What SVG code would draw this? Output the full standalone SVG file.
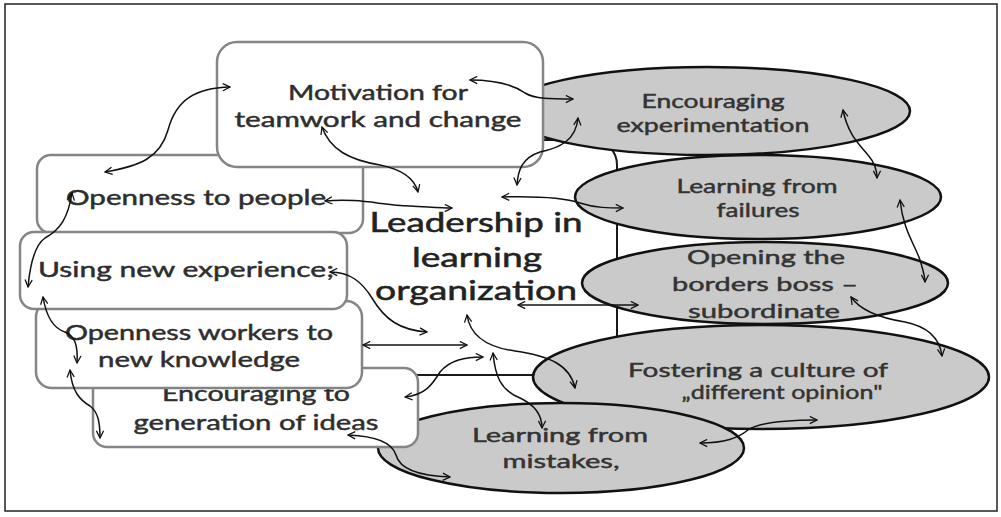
<svg xmlns="http://www.w3.org/2000/svg" width="1001" height="517" viewBox="0 0 1001 517">
<defs>
<marker id="ah" viewBox="0 0 10 10" refX="9" refY="5" markerWidth="9" markerHeight="9" markerUnits="userSpaceOnUse" orient="auto-start-reverse">
<path d="M1,1 L9,5 L1,9" fill="none" stroke="#111" stroke-width="1.4"/>
</marker>
</defs>
<style>
.frame{fill:#ffffff;stroke:#222;stroke-width:1.5}
.box{fill:#ffffff;stroke:#858585;stroke-width:2.5}
.center{fill:#ffffff;stroke:#1a1a1a;stroke-width:2}
.ell{fill:#cacaca;stroke:#111;stroke-width:2.5}
.t{font-family:Lato,"Open Sans","Liberation Sans",sans-serif;font-size:21px;fill:#2e2e2e;stroke:#2e2e2e;stroke-width:0.45;text-anchor:middle}
.te{font-family:Lato,"Open Sans","Liberation Sans",sans-serif;font-size:20px;fill:#333;stroke:#333;stroke-width:0.45;text-anchor:middle}
.tc{font-family:Lato,"Open Sans","Liberation Sans",sans-serif;font-size:26px;fill:#222;stroke:#222;stroke-width:0.5;text-anchor:middle}
.c{fill:none;stroke:#111;stroke-width:1.5;marker-start:url(#ah);marker-end:url(#ah)}
</style>
<rect class="frame" x="5" y="4" width="992" height="507"/>

<g id="leadership">
<rect class="center" x="240" y="140" width="377" height="235" rx="25"/>
<text class="tc" x="476" y="232" textLength="213" lengthAdjust="spacingAndGlyphs">Leadership in</text>
<text class="tc" x="477" y="267" textLength="130" lengthAdjust="spacingAndGlyphs">learning</text>
<text class="tc" x="476" y="300" textLength="202" lengthAdjust="spacingAndGlyphs">organization</text>
</g>

<g id="encouraging-experimentation">
<ellipse class="ell" cx="707" cy="111" rx="203" ry="44"/>
<text class="te" x="713" y="108" textLength="143" lengthAdjust="spacingAndGlyphs">Encouraging</text>
<text class="te" x="713" y="132" textLength="193" lengthAdjust="spacingAndGlyphs">experimentation</text>
</g>
<g id="learning-from-failures">
<ellipse class="ell" cx="758" cy="197" rx="183" ry="42"/>
<text class="te" x="757" y="193" textLength="161" lengthAdjust="spacingAndGlyphs">Learning from</text>
<text class="te" x="758" y="217" textLength="83" lengthAdjust="spacingAndGlyphs">failures</text>
</g>
<g id="opening-borders">
<ellipse class="ell" cx="765" cy="283" rx="183" ry="41"/>
<text class="te" x="766" y="264" textLength="158" lengthAdjust="spacingAndGlyphs">Opening the</text>
<text class="te" x="765" y="291" textLength="186" lengthAdjust="spacingAndGlyphs">borders boss –</text>
<text class="te" x="764" y="318" textLength="152" lengthAdjust="spacingAndGlyphs">subordinate</text>
</g>
<g id="fostering-culture">
<ellipse class="ell" cx="761" cy="377" rx="228" ry="52"/>
<text class="te" x="758" y="377" textLength="260" lengthAdjust="spacingAndGlyphs">Fostering a culture of</text>
<text class="te" x="782" y="399" textLength="201" lengthAdjust="spacingAndGlyphs">„different opinion"</text>
</g>
<g id="learning-from-mistakes">
<ellipse class="ell" cx="561" cy="448" rx="183" ry="45"/>
<text class="te" x="560" y="442" textLength="176" lengthAdjust="spacingAndGlyphs">Learning from</text>
<text class="te" x="561" y="468" textLength="117" lengthAdjust="spacingAndGlyphs">mistakes,</text>
</g>

<g id="generation-of-ideas">
<rect class="box" x="93" y="368" width="325" height="79" rx="14"/>
<text class="t" x="256" y="401" textLength="188" lengthAdjust="spacingAndGlyphs">Encouraging to</text>
<text class="t" x="256" y="430" textLength="245" lengthAdjust="spacingAndGlyphs">generation of ideas</text>
</g>
<g id="openness-workers">
<rect class="box" x="36" y="301" width="326" height="87" rx="16"/>
<text class="t" x="199" y="340" textLength="268" lengthAdjust="spacingAndGlyphs">Openness workers to</text>
<text class="t" x="199" y="367" textLength="202" lengthAdjust="spacingAndGlyphs">new knowledge</text>
</g>
<g id="openness-people">
<rect class="box" x="37" y="155" width="326" height="78" rx="14"/>
<text class="t" x="196" y="205" textLength="260" lengthAdjust="spacingAndGlyphs">Openness to people</text>
</g>
<g id="using-new-experience">
<rect class="box" x="20" y="232" width="327" height="77" rx="14"/>
<text class="t" x="186" y="277" textLength="296" lengthAdjust="spacingAndGlyphs">Using new experience;</text>
</g>
<g id="motivation">
<rect class="box" x="217" y="42" width="326" height="125" rx="20"/>
<text class="t" x="378" y="100" textLength="180" lengthAdjust="spacingAndGlyphs">Motivation for</text>
<text class="t" x="378" y="127" textLength="287" lengthAdjust="spacingAndGlyphs">teamwork and change</text>
</g>

<g id="connectors">
<path class="c" d="M105,172 C140,166 160,158 168,130 C176,100 195,88 230,87"/>
<path class="c" d="M322,127 C330,150 350,160 380,165 C405,170 415,180 418,192"/>
<path class="c" d="M325,201 C360,198 380,205 410,206 C430,207 440,208 452,208"/>
<path class="c" d="M470,80 C500,80 515,86 525,93 C535,99 550,99 573,99"/>
<path class="c" d="M578,118 C576,140 560,148 540,152 C522,158 518,170 517,185"/>
<path class="c" d="M502,197 C540,196 565,198 580,203 C595,208 610,208 623,208"/>
<path class="c" d="M843,110 C848,135 860,145 868,155 C875,163 877,170 877,178"/>
<path class="c" d="M900,200 C903,230 915,245 920,260 C923,270 925,276 925,282"/>
<path class="c" d="M851,297 C860,310 880,318 905,322 C930,327 940,340 942,356"/>
<path class="c" d="M518,305 L638,305"/>
<path class="c" d="M330,272 C350,272 362,282 372,298 C385,320 400,330 427,332"/>
<path class="c" d="M363,345 L467,345"/>
<path class="c" d="M405,397 C425,395 432,385 440,372 C450,360 465,357 483,357"/>
<path class="c" d="M467,315 C470,335 485,347 515,351 C550,356 570,365 575,388"/>
<path class="c" d="M493,353 C495,375 500,390 520,398 C535,405 542,415 542,428"/>
<path class="c" d="M348,435 C375,436 392,442 396,455 C400,470 420,476 450,477"/>
<path class="c" d="M700,443 C725,443 738,438 748,430 C760,422 790,420 817,420"/>
<path class="c" d="M72,193 C68,218 60,230 45,238 C35,245 30,265 28,287"/>
<path class="c" d="M43,297 C46,315 52,328 65,332 C75,336 78,345 77,363"/>
<path class="c" d="M70,370 C72,392 80,400 90,406 C98,412 100,422 100,438"/>
</g>
</svg>
